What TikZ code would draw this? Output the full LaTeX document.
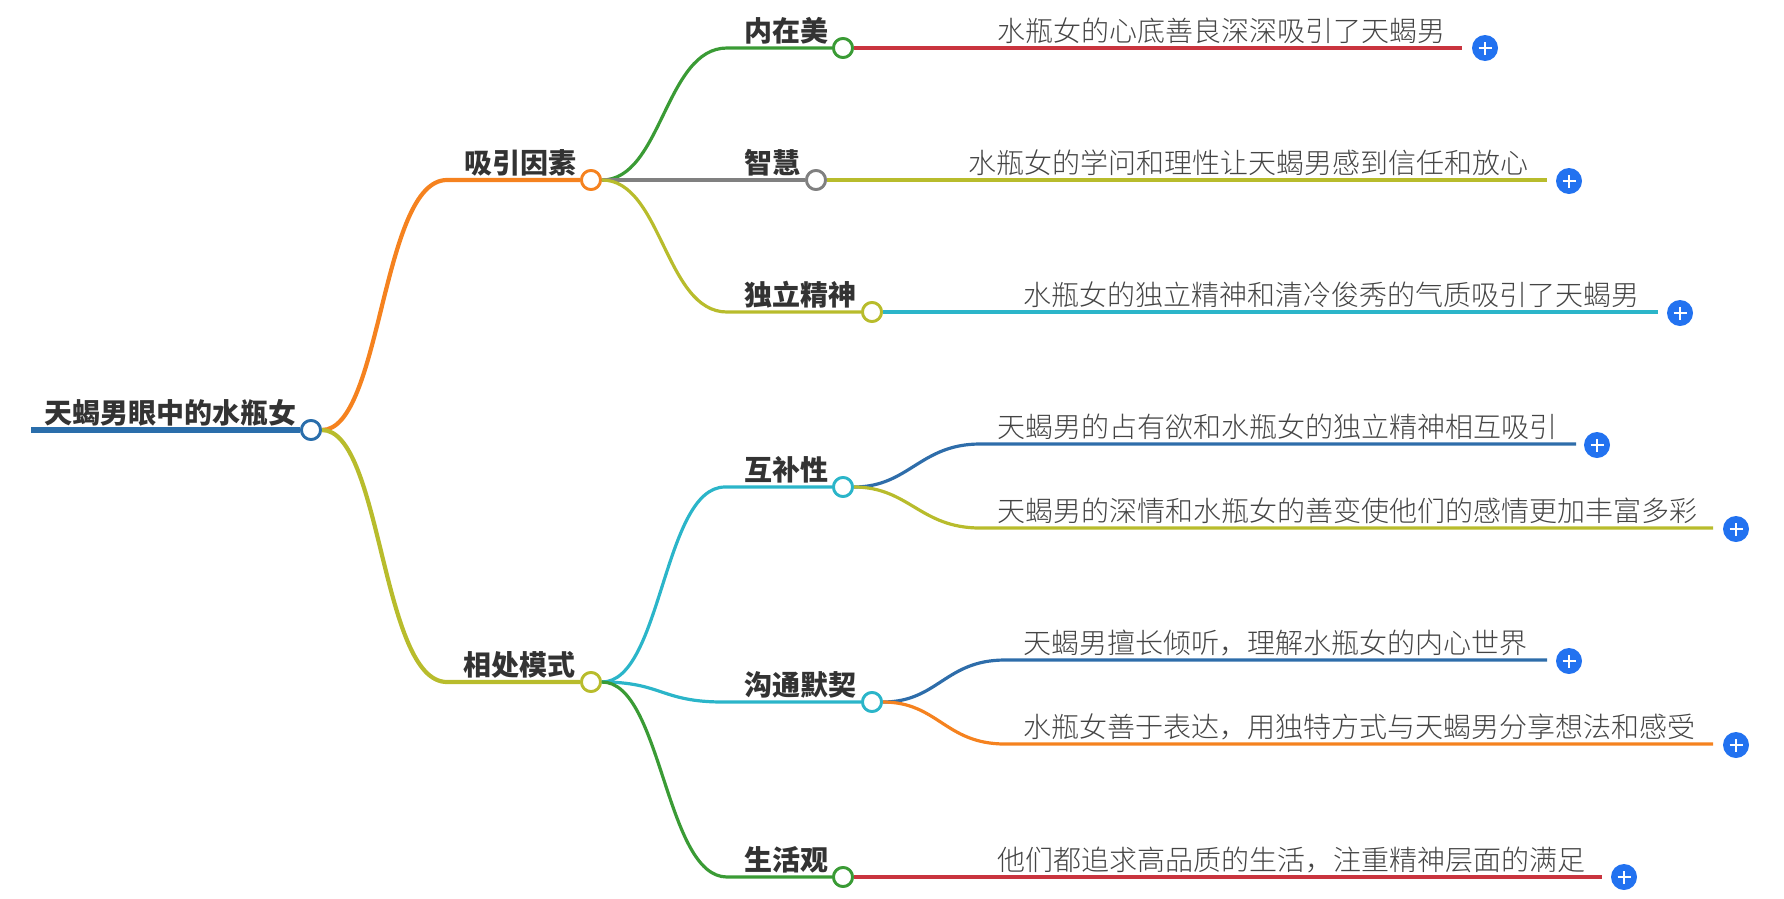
\documentclass[tikz,border=0pt]{standalone}
\usepackage{fontspec}
\newfontfamily\cjk{Noto Sans CJK SC}
\IfFontExistsTF{Noto Sans CJK SC Light}{\newfontfamily\cjklight{Noto Sans CJK SC Light}}{\newfontfamily\cjklight{Noto Sans CJK SC}}
\definecolor{rootblue}{HTML}{2A6EAB}
\definecolor{corange}{HTML}{F5821F}
\definecolor{colive}{HTML}{B8BC2C}
\definecolor{cgreen}{HTML}{3A9B35}
\definecolor{cgray}{HTML}{808080}
\definecolor{ccyan}{HTML}{2BB5C9}
\definecolor{cred}{HTML}{C9343E}
\definecolor{cblue}{HTML}{2E6DAA}
\definecolor{cplus}{HTML}{2272F0}
\definecolor{labtext}{HTML}{333333}
\definecolor{leaftext}{HTML}{444444}
\tikzset{
  knot/.style={circle,draw=#1,line width=2.8pt,fill=white,minimum size=19pt,inner sep=0pt},
  lab/.style={anchor=base west,inner sep=0pt,font=\cjk\bfseries\fontsize{28}{30}\selectfont,text=labtext},
  leaf/.style={anchor=base west,inner sep=0pt,font=\cjklight\fontsize{28}{30}\selectfont,text=leaftext},
  edge1/.style={draw=#1,line width=4.2pt},
  edge2/.style={draw=#1,line width=3.2pt},
  plusdot/.style={circle,fill=cplus,minimum size=26pt,inner sep=0pt},
}
\newcommand{\plusmark}[2]{%
  \node[plusdot] (#1) at (#2) {};
  \draw[white,line width=2.6pt] ([xshift=-6.5pt]#1.center) -- ([xshift=6.5pt]#1.center)
    ([yshift=-6.5pt]#1.center) -- ([yshift=6.5pt]#1.center);}
\begin{document}
\begin{tikzpicture}[x=1pt,y=-1pt]
\useasboundingbox (0,0) rectangle (1784,898);
% root
\coordinate (rs) at (31,430);
\node[knot=rootblue] (root) at (311,430) {};
\draw[rootblue,line width=6.5pt] (rs) -- (root.west);
\node[lab] (rootl) at (44,423) {天蝎男眼中的水瓶女};
% level 1
\node[knot=corange] (a) at (591,180) {};
\coordinate (as) at (447,180);
\node[lab] (al) at (464,173) {吸引因素};
\node[knot=colive] (b) at (591,682) {};
\coordinate (bs) at (447,682);
\node[lab] (bl) at (463,675) {相处模式};
\draw[edge1=corange] (root.east) .. controls +(60,0) and +(-66,0) .. (as) -- (a.west);
\draw[edge1=colive] (root.east) .. controls +(60,0) and +(-66,0) .. (bs) -- (b.west);
\node[knot=corange] at (a) {};
\node[knot=colive] at (b) {};
\node[knot=rootblue] at (root) {};
% level 2 under a
\node[knot=cgreen] (a1) at (843,48) {};
\coordinate (a1s) at (727,48);
\node[lab] (a1l) at (744,41) {内在美};
\node[knot=cgray] (a2) at (816,180) {};
\node[lab] (a2l) at (744,173) {智慧};
\node[knot=colive] (a3) at (872,312) {};
\coordinate (a3s) at (727,312);
\node[lab] (a3l) at (744,305) {独立精神};
\draw[edge2=cgreen] (a.east) .. controls +(60,0) and +(-62,0) .. (a1s) -- (a1.west);
\draw[edge2=cgray] (a.east) -- (a2.west);
\draw[edge2=colive] (a.east) .. controls +(60,0) and +(-62,0) .. (a3s) -- (a3.west);
% level 2 under b
\node[knot=ccyan] (b1) at (843,487) {};
\coordinate (b1s) at (725,487);
\node[lab] (b1l) at (744,480) {互补性};
\node[knot=ccyan] (b2) at (872,702) {};
\coordinate (b2s) at (723,702);
\node[lab] (b2l) at (744,695) {沟通默契};
\node[knot=cgreen] (b3) at (843,877) {};
\coordinate (b3s) at (727,877);
\node[lab] (b3l) at (744,870) {生活观};
\draw[edge2=ccyan] (b.east) .. controls +(60,0) and +(-62,0) .. (b1s) -- (b1.west);
\draw[edge2=ccyan] (b.east) .. controls +(60,0) and +(-62,0) .. (b2s) -- (b2.west);
\draw[edge2=cgreen] (b.east) .. controls +(60,0) and +(-62,0) .. (b3s) -- (b3.west);
% leaves
\coordinate (l1e) at (1462,48);
\draw[edge2=cred] (a1.east) -- (l1e);
\node[leaf] (l1) at (997,41) {水瓶女的心底善良深深吸引了天蝎男};
\plusmark{p1}{1485,48}
\coordinate (l2e) at (1547,180);
\draw[edge2=colive] (a2.east) -- (l2e);
\node[leaf] (l2) at (968,173) {水瓶女的学问和理性让天蝎男感到信任和放心};
\plusmark{p2}{1569,181}
\coordinate (l3e) at (1658,312);
\draw[edge2=ccyan] (a3.east) -- (l3e);
\node[leaf] (l3) at (1023,305) {水瓶女的独立精神和清冷俊秀的气质吸引了天蝎男};
\plusmark{p3}{1680,313}
\coordinate (l4s) at (980,444);
\coordinate (l4e) at (1576,444);
\draw[edge2=cblue] (b1.east) .. controls +(55,0) and +(-60,0) .. (l4s) -- (l4e);
\node[leaf] (l4) at (997,437) {天蝎男的占有欲和水瓶女的独立精神相互吸引};
\plusmark{p4}{1597,445}
\coordinate (l5s) at (980,528);
\coordinate (l5e) at (1713,528);
\draw[edge2=colive] (b1.east) .. controls +(55,0) and +(-60,0) .. (l5s) -- (l5e);
\node[leaf] (l5) at (997,521) {天蝎男的深情和水瓶女的善变使他们的感情更加丰富多彩};
\plusmark{p5}{1736,529}
\coordinate (l6s) at (1005,660);
\coordinate (l6e) at (1547,660);
\draw[edge2=cblue] (b2.east) .. controls +(55,0) and +(-60,0) .. (l6s) -- (l6e);
\node[leaf] (l6) at (1023,653) {天蝎男擅长倾听，理解水瓶女的内心世界};
\plusmark{p6}{1569,661}
\coordinate (l7s) at (1005,744);
\coordinate (l7e) at (1713,744);
\draw[edge2=corange] (b2.east) .. controls +(55,0) and +(-60,0) .. (l7s) -- (l7e);
\node[leaf] (l7) at (1023,737) {水瓶女善于表达，用独特方式与天蝎男分享想法和感受};
\plusmark{p7}{1736,745}
\coordinate (l8e) at (1602,877);
\draw[edge2=cred] (b3.east) -- (l8e);
\node[leaf] (l8) at (997,870) {他们都追求高品质的生活，注重精神层面的满足};
\plusmark{p8}{1624,877}
% redraw knots on top
\foreach \n/\c in {a1/cgreen,a2/cgray,a3/colive,b1/ccyan,b2/ccyan,b3/cgreen}{\node[knot=\c] at (\n) {};}
\end{tikzpicture}
\end{document}
